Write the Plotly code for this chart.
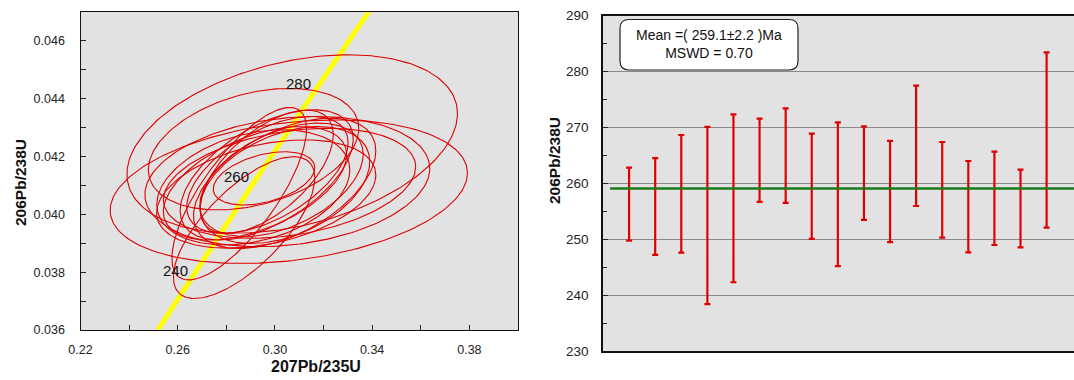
import numpy as np
import plotly.graph_objects as go

# ---------------- data ----------------
# Concordia curve points (207Pb/235U, 206Pb/238U) and age labels
conc_x = [0.2518, 0.2666, 0.2918, 0.3175, 0.3386]
conc_y = [0.0360, 0.03793, 0.04116, 0.04439, 0.0470]
conc_ages = [None, "240", "260", "280", None]

# Error ellipses: centre, half-widths, correlation
ell_cx = [0.3071, 0.3057, 0.2912, 0.3051, 0.3060, 0.2964, 0.2853, 0.2873, 0.2955,
          0.2966, 0.2969, 0.2918, 0.3040, 0.2966, 0.3041, 0.2911, 0.3027]
ell_cy = [0.04243, 0.04078, 0.04225, 0.04113, 0.04107, 0.04070, 0.04071, 0.03954, 0.04124,
          0.04136, 0.04136, 0.04107, 0.04107, 0.04147, 0.04101, 0.04093, 0.04119]
ell_ax = [0.0680, 0.0735, 0.0433, 0.0586, 0.0519, 0.0451, 0.0277, 0.0291, 0.0209,
          0.0356, 0.0332, 0.0377, 0.0375, 0.0274, 0.0349, 0.0397, 0.0336]
ell_ay = [0.00308, 0.00248, 0.00210, 0.00225, 0.00190, 0.00187, 0.00298, 0.00245, 0.00092,
          0.00225, 0.00202, 0.00196, 0.00225, 0.00213, 0.00202, 0.00199, 0.00196]
ell_rho = [0.34, 0.26, 0.34, 0.20, 0.30, 0.35, 0.75, 0.70, 0.40,
           0.55, 0.55, 0.50, 0.50, 0.60, 0.40, 0.30, 0.45]

# Weighted mean plot: 206Pb/238U ages (Ma) and 2-sigma errors
spot_no = list(range(1, 18))
age_top = [262.8, 264.5, 268.65, 270.1, 272.35, 271.6, 273.4, 268.9, 270.9,
           270.2, 267.6, 277.5, 267.4, 264.0, 265.67, 262.45, 283.44]
age_bot = [249.75, 247.2, 247.6, 238.4, 242.3, 256.7, 256.5, 250.05, 245.2,
           253.45, 249.5, 255.95, 250.3, 247.66, 248.97, 248.56, 252.07]
ages = [(t + b) / 2 for t, b in zip(age_top, age_bot)]
errs = [(t - b) / 2 for t, b in zip(age_top, age_bot)]
mean_age = 259.1
mean_err = 2.2
mswd = 0.70

# ---------------- figure ----------------
W, H = 1074, 380
FONT = "Arial, Liberation Sans, sans-serif"

def px(x):
    return x / W

def py(y):
    return 1 - y / H

fig = go.Figure()

# concordia
fig.add_trace(go.Scatter(x=conc_x, y=conc_y, mode="lines",
                         line=dict(color="#ffff00", width=5),
                         xaxis="x", yaxis="y", hoverinfo="skip", showlegend=False))

# ellipses
t = np.linspace(0, 2 * np.pi, 200)
for cx, cy, ax, ay, r in zip(ell_cx, ell_cy, ell_ax, ell_ay, ell_rho):
    xs = cx + ax * np.cos(t)
    ys = cy + ay * (r * np.cos(t) + np.sqrt(1 - r * r) * np.sin(t))
    fig.add_trace(go.Scatter(x=xs, y=ys, mode="lines",
                             line=dict(color="#dd0000", width=1.1),
                             xaxis="x", yaxis="y", hoverinfo="skip", showlegend=False))

# concordia age labels
for xv, yv, lab in zip(conc_x, conc_y, conc_ages):
    if lab:
        fig.add_annotation(x=xv, y=yv, xref="x", yref="y", text=lab, showarrow=False,
                           xanchor="right", yanchor="middle", xshift=-4, yshift=4,
                           font=dict(family=FONT, size=15, color="#111111"))

# error bars
fig.add_trace(go.Scatter(x=spot_no, y=ages, mode="markers",
                         marker=dict(size=1, color="rgba(0,0,0,0)"),
                         error_y=dict(type="data", array=errs, visible=True,
                                      color="#e00000", thickness=2.2, width=3),
                         xaxis="x2", yaxis="y2", hoverinfo="skip", showlegend=False))

# mean line
fig.add_shape(type="line", xref="x2 domain", yref="y2", x0=0.015, x1=1,
              y0=mean_age, y1=mean_age, line=dict(color="#1b7a1b", width=2.5))

# rounded text box
x0, x1, y0, y1, rr = px(620), px(798), py(19.5), py(70), 9
rx, ry = rr / W, rr / H
path = (f"M {x0+rx},{y0} L {x1-rx},{y0} Q {x1},{y0} {x1},{y0-ry} "
        f"L {x1},{y1+ry} Q {x1},{y1} {x1-rx},{y1} L {x0+rx},{y1} "
        f"Q {x0},{y1} {x0},{y1+ry} L {x0},{y0-ry} Q {x0},{y0} {x0+rx},{y0} Z")
fig.add_shape(type="path", path=path, xref="paper", yref="paper",
              fillcolor="white", line=dict(color="#222222", width=1.2))
fig.add_annotation(x=px(709), y=py(44.5), xref="paper", yref="paper",
                   text=f"Mean =( {mean_age}±{mean_err} )Ma<br>MSWD = {mswd:.2f}",
                   showarrow=False, xanchor="center", yanchor="middle", align="center",
                   font=dict(family=FONT, size=14, color="#111111"))

# axis titles
fig.add_annotation(x=px(316), y=py(366), xref="paper", yref="paper",
                   text="<b>207Pb/235U</b>", showarrow=False,
                   font=dict(family=FONT, size=16, color="#111111"),
                   xanchor="center", yanchor="middle")
fig.add_annotation(x=px(20), y=py(183), xref="paper", yref="paper",
                   text="<b>206Pb/238U</b>", showarrow=False, textangle=-90,
                   font=dict(family=FONT, size=15.5, color="#111111"),
                   xanchor="center", yanchor="middle")
fig.add_annotation(x=px(554), y=py(161), xref="paper", yref="paper",
                   text="<b>206Pb/238U</b>", showarrow=False, textangle=-90,
                   font=dict(family=FONT, size=15.5, color="#111111"),
                   xanchor="center", yanchor="middle")

tick_font_l = dict(family=FONT, size=12.5, color="#222222")
tick_font_r = dict(family=FONT, size=13.5, color="#222222")

fig.update_layout(
    width=W, height=H,
    margin=dict(l=0, r=0, t=0, b=0),
    paper_bgcolor="white",
    plot_bgcolor="#e2e2e2",
    showlegend=False,
    xaxis=dict(domain=[px(80.5), px(518)], range=[0.22, 0.40], tick0=0.22, dtick=0.04,
               tickformat=".2f", ticks="inside", ticklen=5, tickcolor="#222",
               minor=dict(dtick=0.02, tick0=0.22, ticks="inside", ticklen=5, tickcolor="#222"),
               showgrid=False, zeroline=False, showline=True, linecolor="#111",
               linewidth=1.2, mirror=True, tickfont=tick_font_l, ticklabelstandoff=8,
               anchor="y", automargin=False),
    yaxis=dict(domain=[py(330), py(11.7)], range=[0.036, 0.047], tick0=0.036, dtick=0.002,
               tickformat=".3f", ticks="inside", ticklen=5, tickcolor="#222",
               minor=dict(dtick=0.001, tick0=0.036, ticks="inside", ticklen=5, tickcolor="#222"),
               showgrid=False, zeroline=False, showline=True, linecolor="#111",
               linewidth=1.2, mirror=True, tickfont=tick_font_l, ticklabelstandoff=12,
               anchor="x", automargin=False),
    xaxis2=dict(domain=[px(603), 1.0], range=[0.0, 18.05], showticklabels=False,
                ticks="", showgrid=False, zeroline=False, showline=True, linecolor="#111",
                linewidth=1.5, mirror=True, anchor="y2", automargin=False),
    yaxis2=dict(domain=[py(351), py(15.7)], range=[230, 290], tick0=230, dtick=10,
                ticks="inside", ticklen=5, tickcolor="#222",
                minor=dict(dtick=5, tick0=230, ticks="inside", ticklen=4, tickcolor="#222"),
                showgrid=True, gridcolor="#8a8a8a", gridwidth=1,
                zeroline=False, showline=True, linecolor="#111", linewidth=1.5,
                mirror=False, tickfont=tick_font_r, ticklabelstandoff=10, anchor="x2",
                automargin=False),
)

fig.write_html("out.html", config={"displayModeBar": False},
               post_script="document.body.style.margin='0';document.body.style.padding='0';")
